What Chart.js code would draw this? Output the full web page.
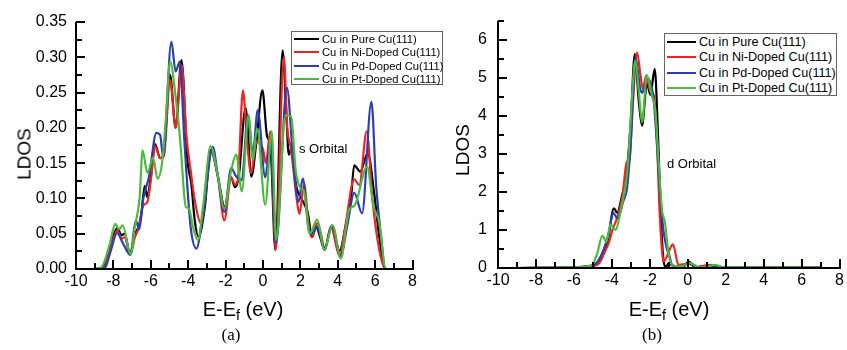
<!DOCTYPE html>
<html lang="en">
<head>
  <meta charset="UTF-8" />
  <title>Cu LDOS - s and d orbitals</title>
  <script src="https://cdn.jsdelivr.net/npm/chart.js"></script>
  <style>
    body {
      margin: 0;
      background: #ffffff;
      font-family: "Liberation Sans", Arial, sans-serif;
      color: #000;
    }
    #page { position: relative; width: 847px; height: 350px; overflow: hidden; }
    canvas { position: absolute; top: 0; }
    #chartA { left: 0; }
    #chartB { left: 420px; }
    .txt { position: absolute; white-space: nowrap; line-height: 1; }
    .ytitle { font-size: 19px; transform: translate(-50%, -50%) rotate(-90deg); }
    .xtitle { font-size: 20px; transform: translate(-50%, -50%); }
    .xtitle sub { font-size: 0.72em; vertical-align: -0.3em; }
    .cap { font-family: "Liberation Serif", "Times New Roman", serif; font-size: 17px; transform: translate(-50%, -50%); }
    .note { font-size: 13px; transform: translateY(-50%); }
    .legend { position: absolute; border: 1px solid #666; background: #fff; box-sizing: border-box; }
    .legend .row { position: absolute; left: 0; display: flex; align-items: center; white-space: nowrap; color: #000; }
    .legend .sw { display: inline-block; height: 2px; }
  </style>
</head>
<body>
<div id="page">
  <canvas id="chartA" width="420" height="300"></canvas>
  <canvas id="chartB" width="427" height="300"></canvas>

  <div class="txt ytitle" style="left:24px; top:154px;">LDOS</div>
  <div class="txt ytitle" style="left:462px; top:150px;">LDOS</div>
  <div class="txt xtitle" style="left:243px; top:311px;">E-E<sub>f</sub> (eV)</div>
  <div class="txt xtitle" style="left:669px; top:311px;">E-E<sub>f</sub> (eV)</div>
  <div class="txt cap" style="left:231px; top:334px;">(a)</div>
  <div class="txt cap" style="left:652px; top:334px;">(b)</div>
  <div class="txt note" style="left:299px; top:148px;">s Orbital</div>
  <div class="txt note" style="left:667px; top:163px;">d Orbital</div>

  <div class="legend" id="legendA" style="left:291px; top:31px; width:152px; height:54px;"></div>
  <div class="legend" id="legendB" style="left:664px; top:33px; width:173px; height:63px;"></div>
</div>

<script>
  // series labels and colours (same order in both panels)
  const seriesNames = [
    'Cu in Pure Cu(111)',
    'Cu in Ni-Doped Cu(111)',
    'Cu in Pd-Doped Cu(111)',
    'Cu in Pt-Doped Cu(111)'
  ];
  const seriesColors = ['#000000', '#f02222', '#2b3fb0', '#4cbb3c'];

  const xTicks = [-10, -8, -6, -4, -2, 0, 2, 4, 6, 8];
  const yTicksS = [0, 0.05, 0.10, 0.15, 0.20, 0.25, 0.30, 0.35];
  const yTicksD = [0, 1, 2, 3, 4, 5, 6];

  // (a) s orbital, [E - Ef (eV), LDOS]
  const sPure = [
    [-9.0, 0], [-8.6, 0.002], [-8.2, 0.03], [-7.8, 0.058], [-7.55, 0.048], [-7.4, 0.05], [-7.1, 0.02],
    [-6.85, 0.05], [-6.65, 0.06], [-6.5, 0.08], [-6.32, 0.118], [-6.2, 0.102], [-6.0, 0.13], [-5.77, 0.177],
    [-5.5, 0.157], [-5.3, 0.165], [-4.97, 0.275], [-4.67, 0.2], [-4.36, 0.296], [-4.04, 0.154], [-3.83, 0.12],
    [-3.65, 0.069], [-3.45, 0.046], [-3.1, 0.09], [-2.8, 0.169], [-2.41, 0.131], [-2.05, 0.088], [-1.7, 0.13],
    [-1.5, 0.116], [-1.3, 0.13], [-0.93, 0.228], [-0.62, 0.131], [-0.36, 0.178], [-0.03, 0.253], [0.22, 0.188],
    [0.4, 0.175], [0.66, 0.027], [1.05, 0.31], [1.24, 0.225], [1.38, 0.162], [1.52, 0.171], [1.78, 0.117],
    [2.05, 0.1], [2.4, 0.079], [2.62, 0.045], [2.85, 0.06], [3.05, 0.046], [3.3, 0.027], [3.64, 0.06],
    [4.1, 0.026], [4.45, 0.065], [4.7, 0.098], [4.88, 0.147], [5.2, 0.138], [5.6, 0.164], [5.95, 0.107],
    [6.2, 0.05], [6.48, 0.003], [6.6, 0]
  ];
  const sNi = [
    [-9.0, 0], [-8.5, 0.002], [-8.2, 0.025], [-7.8, 0.054], [-7.55, 0.043], [-7.4, 0.045], [-7.1, 0.02],
    [-6.85, 0.045], [-6.65, 0.058], [-6.4, 0.09], [-6.18, 0.095], [-6.0, 0.125], [-5.77, 0.174], [-5.5, 0.157],
    [-5.3, 0.16], [-4.97, 0.268], [-4.67, 0.2], [-4.35, 0.289], [-4.1, 0.19], [-3.87, 0.14], [-3.6, 0.09],
    [-3.3, 0.064], [-3.1, 0.1], [-2.75, 0.167], [-2.41, 0.131], [-2.07, 0.069], [-1.7, 0.13], [-1.5, 0.12],
    [-1.35, 0.125], [-1.07, 0.253], [-0.85, 0.18], [-0.63, 0.136], [-0.35, 0.18], [0.0, 0.17], [0.15, 0.15],
    [0.4, 0.195], [0.68, 0.027], [1.12, 0.3], [1.3, 0.2], [1.5, 0.17], [1.8, 0.1], [1.95, 0.078], [2.2, 0.12],
    [2.45, 0.06], [2.6, 0.045], [2.9, 0.065], [3.1, 0.05], [3.3, 0.027], [3.65, 0.058], [4.1, 0.018],
    [4.4, 0.06], [4.88, 0.127], [5.15, 0.119], [5.55, 0.195], [5.85, 0.1], [6.2, 0.03], [6.55, 0], [6.9, 0]
  ];
  const sPd = [
    [-9.0, 0], [-8.45, 0.002], [-8.15, 0.025], [-7.8, 0.051], [-7.5, 0.037], [-7.1, 0.02], [-6.8, 0.069],
    [-6.62, 0.056], [-6.4, 0.1], [-6.1, 0.13], [-5.7, 0.193], [-5.5, 0.19], [-5.34, 0.159], [-4.9, 0.322],
    [-4.67, 0.28], [-4.45, 0.294], [-4.2, 0.18], [-3.87, 0.06], [-3.56, 0.029], [-3.2, 0.08], [-2.68, 0.173],
    [-2.41, 0.131], [-2.07, 0.081], [-1.7, 0.143], [-1.43, 0.131], [-1.13, 0.126], [-0.81, 0.218],
    [-0.54, 0.164], [-0.28, 0.225], [0.12, 0.13], [0.4, 0.18], [0.7, 0.036], [1.28, 0.257], [1.6, 0.16],
    [1.9, 0.095], [2.13, 0.128], [2.45, 0.055], [2.6, 0.05], [2.9, 0.06], [3.3, 0.03], [3.7, 0.062],
    [4.15, 0.018], [4.5, 0.06], [4.88, 0.108], [5.3, 0.079], [5.8, 0.237], [6.05, 0.12], [6.3, 0.05],
    [6.55, 0], [6.9, 0]
  ];
  const sPt = [
    [-9.0, 0], [-8.6, 0.004], [-8.2, 0.035], [-7.9, 0.064], [-7.7, 0.056], [-7.51, 0.062], [-7.07, 0.02],
    [-6.85, 0.06], [-6.6, 0.1], [-6.44, 0.168], [-6.18, 0.136], [-5.88, 0.158], [-5.64, 0.128], [-5.38, 0.154],
    [-5.2, 0.211], [-4.97, 0.294], [-4.67, 0.244], [-4.4, 0.173], [-4.22, 0.107], [-4.13, 0.088], [-3.96, 0.086],
    [-3.75, 0.06], [-3.48, 0.041], [-3.2, 0.09], [-2.8, 0.174], [-2.41, 0.131], [-2.07, 0.086], [-1.7, 0.14],
    [-1.43, 0.162], [-1.13, 0.11], [-0.77, 0.218], [-0.55, 0.155], [-0.31, 0.199], [0.12, 0.091], [0.47, 0.195],
    [0.7, 0.041], [1.21, 0.218], [1.51, 0.216], [1.75, 0.14], [2.0, 0.115], [2.2, 0.11], [2.5, 0.05],
    [2.9, 0.07], [3.28, 0.027], [3.72, 0.062], [4.17, 0.015], [4.45, 0.06], [4.61, 0.084], [4.9, 0.09],
    [5.57, 0.145], [5.9, 0.09], [6.21, 0.067], [6.57, 0], [6.9, 0]
  ];

  // (b) d orbital, [E - Ef (eV), LDOS]
  const dPure = [
    [-9, 0], [-6, 0.02], [-5.2, 0.05], [-4.77, 0.1], [-4.5, 0.3], [-4.24, 0.64], [-3.89, 1.57], [-3.72, 1.45],
    [-3.46, 1.91], [-3.25, 2.38], [-3.02, 3.7], [-2.79, 5.62], [-2.58, 4.38], [-2.41, 3.74], [-2.15, 4.85],
    [-1.97, 4.55], [-1.74, 5.23], [-1.57, 3.53], [-1.39, 1.06], [-1.27, 0.17], [-1.15, 0.03], [-1.0, 0.13],
    [-0.7, 0.03], [-0.2, 0.05], [0.04, 0.17], [0.4, 0.02], [1, 0.05], [1.5, 0.03], [3, 0.02], [7, 0.01]
  ];
  const dNi = [
    [-9, 0], [-6, 0.02], [-5.2, 0.04], [-4.68, 0.12], [-4.42, 0.38], [-4.15, 0.68], [-3.98, 0.98], [-3.72, 1.32],
    [-3.46, 1.83], [-3.19, 2.81], [-3.08, 2.8], [-2.93, 4.04], [-2.67, 5.66], [-2.49, 5.06], [-2.37, 4.72],
    [-2.18, 5.06], [-1.97, 4.64], [-1.8, 4.55], [-1.62, 3.36], [-1.5, 1.66], [-1.36, 0.47], [-1.27, 0.17],
    [-0.78, 0.62], [-0.49, 0.085], [0.04, 0.11], [0.5, 0.03], [1.17, 0.085], [1.6, 0.02], [7, 0.02]
  ];
  const dPd = [
    [-9, 0], [-6, 0.02], [-5.1, 0.05], [-4.77, 0.15], [-4.42, 0.5], [-4.15, 0.95], [-3.93, 1.45], [-3.7, 1.3],
    [-3.4, 1.75], [-3.2, 2.1], [-3.0, 3.3], [-2.75, 5.5], [-2.5, 4.7], [-2.4, 4.6], [-2.15, 4.98], [-1.8, 4.43],
    [-1.63, 3.28], [-1.45, 1.91], [-1.28, 0.98], [-1.1, 0.5], [-0.98, 0.35], [-0.83, 0.085], [-0.4, 0.03],
    [0.04, 0.12], [0.5, 0.02], [1.3, 0.06], [2, 0.02], [7, 0.01]
  ];
  const dPt = [
    [-9, 0], [-6.5, 0.01], [-5.5, 0.03], [-5.03, 0.085], [-4.77, 0.38], [-4.5, 0.85], [-4.29, 0.68],
    [-4.07, 1.15], [-3.8, 1.0], [-3.54, 1.49], [-3.37, 1.91], [-3.19, 2.51], [-3.02, 3.79], [-2.9, 4.8],
    [-2.76, 5.45], [-2.58, 4.64], [-2.41, 3.83], [-2.15, 5.06], [-1.88, 4.51], [-1.71, 4.13], [-1.53, 2.77],
    [-1.36, 1.53], [-1.2, 1.2], [-1.04, 0.47], [-0.92, 0.17], [-0.66, 0.04], [-0.3, 0.05], [0.15, 0.13],
    [0.6, 0.02], [1.0, 0.03], [1.43, 0.085], [1.9, 0.02], [7, 0.01]
  ];

  // axis lines + inward major/minor ticks, drawn as filled rects
  function axesPlugin(t) {
    return {
      id: 'inwardAxes' + t.tag,
      afterDatasetsDraw(chart) {
        const ctx = chart.ctx;
        const a = chart.chartArea;
        const xs = chart.scales.x;
        const ys = chart.scales.y;
        const L = Math.round(a.left), B = Math.round(a.bottom);
        ctx.save();
        ctx.fillStyle = '#000';
        ctx.fillRect(L - 1, Math.round(a.top), 2, B - Math.round(a.top) + 1);
        ctx.fillRect(L - 1, B - 1, Math.round(a.right) - L + 2, 2);
        const nx = Math.round((t.xMax - t.xMin) / t.xMinor);
        for (let i = 0; i <= nx; i++) {
          const v = t.xMin + i * t.xMinor;
          const len = (i % t.xEvery === 0) ? 9 : 6;
          const px = Math.round(xs.getPixelForValue(v));
          ctx.fillRect(px - 1, B - len, 2, len);
        }
        const ny = Math.round(t.yMax / t.yMinor);
        for (let i = 0; i <= ny; i++) {
          const v = i * t.yMinor;
          const len = (i % t.yEvery === 0) ? 9 : 6;
          const py = Math.round(ys.getPixelForValue(v));
          ctx.fillRect(L, py - 1, len, 2);
        }
        ctx.restore();
      }
    };
  }

  const tickFont = { family: '"Liberation Sans", Arial, sans-serif', size: 16 };

  function makeChart(id, cfg) {
    return new Chart(document.getElementById(id), {
      type: 'line',
      data: {
        datasets: cfg.series.map((s, i) => ({
          label: seriesNames[i],
          data: s.map(([x, y]) => ({ x, y })),
          borderColor: seriesColors[i],
          borderWidth: 2.2,
          pointRadius: 0,
          fill: false,
          cubicInterpolationMode: 'monotone',
          order: 3 - i
        }))
      },
      options: {
        responsive: false,
        animation: false,
        events: [],
        layout: { autoPadding: false, padding: cfg.padding },
        plugins: {
          legend: { display: false },
          tooltip: { enabled: false }
        },
        scales: {
          x: {
            type: 'linear',
            min: -10,
            max: 8,
            afterFit: s => { s.height = cfg.xHeight; },
            afterBuildTicks: s => { s.ticks = xTicks.map(v => ({ value: v })); },
            grid: { display: false, drawTicks: false },
            border: { display: false },
            ticks: {
              color: '#000', font: tickFont, padding: 3, maxRotation: 0, autoSkip: false,
              callback: v => String(v)
            }
          },
          y: {
            type: 'linear',
            min: 0,
            max: cfg.yMax,
            afterFit: s => { s.width = cfg.yWidth; },
            afterBuildTicks: s => { s.ticks = cfg.yTicks.map(v => ({ value: v })); },
            grid: { display: false, drawTicks: false },
            border: { display: false },
            ticks: {
              color: '#000', font: tickFont, padding: cfg.yPad, autoSkip: false,
              callback: cfg.yFormat
            }
          }
        }
      },
      plugins: [axesPlugin(cfg.ticks)]
    });
  }

  makeChart('chartA', {
    series: [sPure, sNi, sPd, sPt],
    padding: { left: 0, right: 7, top: 22, bottom: 0 },
    xHeight: 31, yWidth: 76, yPad: 9,
    yMax: 0.35, yTicks: yTicksS, yFormat: v => v.toFixed(2),
    ticks: { tag: 'A', xMin: -10, xMax: 8, xMinor: 1, xEvery: 2, yMax: 0.35, yMinor: 0.025, yEvery: 2 }
  });

  makeChart('chartB', {
    series: [dPure, dNi, dPd, dPt],
    padding: { left: 0, right: 7, top: 14, bottom: 0 },
    xHeight: 32, yWidth: 78, yPad: 11,
    yMax: 6.5, yTicks: yTicksD, yFormat: v => String(v),
    ticks: { tag: 'B', xMin: -10, xMax: 8, xMinor: 1, xEvery: 2, yMax: 6.5, yMinor: 0.5, yEvery: 2 }
  });

  // boxed legends inside each panel
  function buildLegend(id, opts) {
    const box = document.getElementById(id);
    seriesNames.forEach((name, i) => {
      const row = document.createElement('div');
      row.className = 'row';
      row.style.top = (opts.firstRow + i * opts.rowGap - 8) + 'px';
      row.style.height = '16px';
      row.style.left = opts.swLeft + 'px';
      row.style.fontSize = opts.fontSize + 'px';
      const sw = document.createElement('span');
      sw.className = 'sw';
      sw.style.width = opts.swWidth + 'px';
      sw.style.background = seriesColors[i];
      sw.style.marginRight = opts.gap + 'px';
      row.appendChild(sw);
      row.appendChild(document.createTextNode(name));
      box.appendChild(row);
    });
  }
  buildLegend('legendA', { firstRow: 7, rowGap: 13.4, swLeft: 2, swWidth: 25, gap: 3, fontSize: 11.2 });
  buildLegend('legendB', { firstRow: 8, rowGap: 15.3, swLeft: 2, swWidth: 29, gap: 3, fontSize: 12.6 });
</script>
</body>
</html>
